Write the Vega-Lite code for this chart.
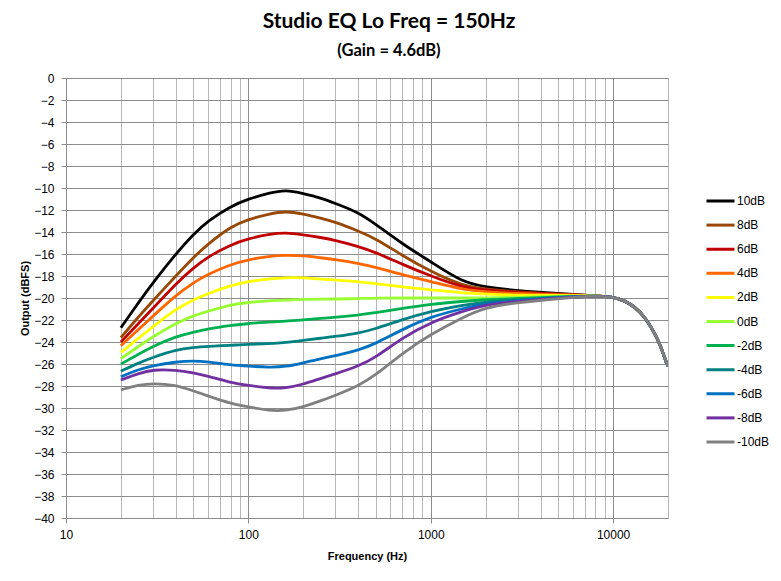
{
  "$schema": "https://vega.github.io/schema/vega-lite/v6.json",
  "width": 602,
  "height": 440,
  "autosize": {"type": "none"},
  "padding": {"left": 66, "top": 78, "right": 113, "bottom": 63},
  "background": "white",
  "config": {
    "view": {"stroke": "transparent"},
    "font": "Liberation Sans"
  },
  "title": {
    "text": "Studio EQ Lo Freq = 150Hz",
    "subtitle": "(Gain = 4.6dB)",
    "anchor": "middle",
    "frame": "group",
    "dx": 22,
    "offset": 13,
    "font": "Lato",
    "fontSize": 21,
    "fontWeight": "bold",
    "color": "black",
    "subtitleFont": "Lato",
    "subtitleFontSize": 16.5,
    "subtitleFontWeight": "bold",
    "subtitleColor": "black",
    "subtitlePadding": 11
  },
  "data": {
    "values": [
      {"f": 20, "10dB": -22.7, "8dB": -23.6, "6dB": -24.0, "4dB": -24.35, "2dB": -24.95, "0dB": -25.5, "-2dB": -26.0, "-4dB": -26.65, "-6dB": -27.15, "-8dB": -27.45, "-10dB": -28.35},
      {"f": 25, "10dB": -20.4, "8dB": -21.7, "6dB": -22.3, "4dB": -22.85, "2dB": -23.65, "0dB": -24.4, "-2dB": -25.1, "-4dB": -25.9, "-6dB": -26.5, "-8dB": -26.85, "-10dB": -27.9},
      {"f": 30, "10dB": -18.6, "8dB": -20.25, "6dB": -20.95, "4dB": -21.65, "2dB": -22.6, "0dB": -23.5, "-2dB": -24.4, "-4dB": -25.4, "-6dB": -26.15, "-8dB": -26.5, "-10dB": -27.75},
      {"f": 40, "10dB": -16.0, "8dB": -18.0, "6dB": -18.7, "4dB": -19.75, "2dB": -21.0, "0dB": -22.3, "-2dB": -23.5, "-4dB": -24.7, "-6dB": -25.8, "-8dB": -26.55, "-10dB": -27.9},
      {"f": 50, "10dB": -14.2, "8dB": -16.3, "6dB": -17.25, "4dB": -18.6, "2dB": -20.15, "0dB": -21.6, "-2dB": -23.1, "-4dB": -24.5, "-6dB": -25.7, "-8dB": -26.8, "-10dB": -28.45},
      {"f": 60, "10dB": -13.0, "8dB": -15.1, "6dB": -16.25, "4dB": -17.85, "2dB": -19.6, "0dB": -21.2, "-2dB": -22.8, "-4dB": -24.4, "-6dB": -25.8, "-8dB": -27.1, "-10dB": -28.9},
      {"f": 80, "10dB": -11.65, "8dB": -13.5, "6dB": -15.15, "4dB": -16.95, "2dB": -18.85, "0dB": -20.6, "-2dB": -22.5, "-4dB": -24.3, "-6dB": -26.1, "-8dB": -27.7, "-10dB": -29.6},
      {"f": 100, "10dB": -11.0, "8dB": -12.85, "6dB": -14.6, "4dB": -16.5, "2dB": -18.5, "0dB": -20.4, "-2dB": -22.3, "-4dB": -24.2, "-6dB": -26.2, "-8dB": -27.95, "-10dB": -29.9},
      {"f": 130, "10dB": -10.45, "8dB": -12.35, "6dB": -14.2, "4dB": -16.2, "2dB": -18.25, "0dB": -20.25, "-2dB": -22.2, "-4dB": -24.15, "-6dB": -26.3, "-8dB": -28.2, "-10dB": -30.25},
      {"f": 160, "10dB": -10.15, "8dB": -12.1, "6dB": -14.05, "4dB": -16.1, "2dB": -18.15, "0dB": -20.2, "-2dB": -22.1, "-4dB": -24.05, "-6dB": -26.25, "-8dB": -28.2, "-10dB": -30.25},
      {"f": 200, "10dB": -10.5, "8dB": -12.35, "6dB": -14.25, "4dB": -16.15, "2dB": -18.15, "0dB": -20.1, "-2dB": -22.0, "-4dB": -23.85, "-6dB": -25.9, "-8dB": -27.85, "-10dB": -29.9},
      {"f": 250, "10dB": -10.9, "8dB": -12.75, "6dB": -14.5, "4dB": -16.35, "2dB": -18.3, "0dB": -20.1, "-2dB": -21.85, "-4dB": -23.65, "-6dB": -25.5, "-8dB": -27.3, "-10dB": -29.35},
      {"f": 300, "10dB": -11.4, "8dB": -13.1, "6dB": -14.75, "4dB": -16.5, "2dB": -18.35, "0dB": -20.1, "-2dB": -21.75, "-4dB": -23.5, "-6dB": -25.25, "-8dB": -26.9, "-10dB": -28.85},
      {"f": 400, "10dB": -12.2, "8dB": -13.9, "6dB": -15.3, "4dB": -16.85, "2dB": -18.5, "0dB": -20.05, "-2dB": -21.55, "-4dB": -23.2, "-6dB": -24.75, "-8dB": -26.2, "-10dB": -28.0},
      {"f": 500, "10dB": -13.3, "8dB": -14.6, "6dB": -15.85, "4dB": -17.2, "2dB": -18.7, "0dB": -20.0, "-2dB": -21.35, "-4dB": -22.8, "-6dB": -24.15, "-8dB": -25.4, "-10dB": -27.0},
      {"f": 700, "10dB": -15.1, "8dB": -16.15, "6dB": -16.95, "4dB": -17.9, "2dB": -19.0, "0dB": -20.0, "-2dB": -20.95, "-4dB": -21.95, "-6dB": -22.85, "-8dB": -23.6, "-10dB": -25.0},
      {"f": 1000, "10dB": -16.7, "8dB": -17.6, "6dB": -18.0, "4dB": -18.5, "2dB": -19.25, "0dB": -20.0, "-2dB": -20.55, "-4dB": -21.2, "-6dB": -21.7, "-8dB": -22.2, "-10dB": -23.3},
      {"f": 1500, "10dB": -18.6, "8dB": -18.9, "6dB": -19.05, "4dB": -19.25, "2dB": -19.55, "0dB": -20.0, "-2dB": -20.3, "-4dB": -20.65, "-6dB": -20.95, "-8dB": -21.2, "-10dB": -21.75},
      {"f": 2000, "10dB": -19.0, "8dB": -19.2, "6dB": -19.3, "4dB": -19.45, "2dB": -19.65, "0dB": -20.0, "-2dB": -20.15, "-4dB": -20.35, "-6dB": -20.5, "-8dB": -20.6, "-10dB": -20.85},
      {"f": 3000, "10dB": -19.35, "8dB": -19.45, "6dB": -19.5, "4dB": -19.6, "2dB": -19.75, "0dB": -19.95, "-2dB": -20.05, "-4dB": -20.15, "-6dB": -20.25, "-8dB": -20.3, "-10dB": -20.4},
      {"f": 5000, "10dB": -19.6, "8dB": -19.65, "6dB": -19.65, "4dB": -19.7, "2dB": -19.75, "0dB": -19.85, "-2dB": -19.9, "-4dB": -19.95, "-6dB": -19.95, "-8dB": -20.0, "-10dB": -20.05},
      {"f": 8000, "10dB": -19.8, "8dB": -19.8, "6dB": -19.8, "4dB": -19.8, "2dB": -19.8, "0dB": -19.8, "-2dB": -19.8, "-4dB": -19.8, "-6dB": -19.8, "-8dB": -19.8, "-10dB": -19.8},
      {"f": 10000, "10dB": -19.9, "8dB": -19.9, "6dB": -19.9, "4dB": -19.9, "2dB": -19.9, "0dB": -19.9, "-2dB": -19.9, "-4dB": -19.9, "-6dB": -19.9, "-8dB": -19.9, "-10dB": -19.9},
      {"f": 11600, "10dB": -20.25, "8dB": -20.25, "6dB": -20.25, "4dB": -20.25, "2dB": -20.25, "0dB": -20.25, "-2dB": -20.25, "-4dB": -20.25, "-6dB": -20.25, "-8dB": -20.25, "-10dB": -20.25},
      {"f": 13100, "10dB": -20.8, "8dB": -20.8, "6dB": -20.8, "4dB": -20.8, "2dB": -20.8, "0dB": -20.8, "-2dB": -20.8, "-4dB": -20.8, "-6dB": -20.8, "-8dB": -20.8, "-10dB": -20.8},
      {"f": 14900, "10dB": -21.7, "8dB": -21.7, "6dB": -21.7, "4dB": -21.7, "2dB": -21.7, "0dB": -21.7, "-2dB": -21.7, "-4dB": -21.7, "-6dB": -21.7, "-8dB": -21.7, "-10dB": -21.7},
      {"f": 16500, "10dB": -22.9, "8dB": -22.9, "6dB": -22.9, "4dB": -22.9, "2dB": -22.9, "0dB": -22.9, "-2dB": -22.9, "-4dB": -22.9, "-6dB": -22.9, "-8dB": -22.9, "-10dB": -22.9},
      {"f": 18000, "10dB": -24.1, "8dB": -24.1, "6dB": -24.1, "4dB": -24.1, "2dB": -24.1, "0dB": -24.1, "-2dB": -24.1, "-4dB": -24.1, "-6dB": -24.1, "-8dB": -24.1, "-10dB": -24.1},
      {"f": 19500, "10dB": -25.8, "8dB": -25.8, "6dB": -25.8, "4dB": -25.8, "2dB": -25.8, "0dB": -25.8, "-2dB": -25.8, "-4dB": -25.8, "-6dB": -25.8, "-8dB": -25.8, "-10dB": -25.8},
      {"f": 20000, "10dB": -26.2, "8dB": -26.2, "6dB": -26.2, "4dB": -26.2, "2dB": -26.2, "0dB": -26.2, "-2dB": -26.2, "-4dB": -26.2, "-6dB": -26.2, "-8dB": -26.2, "-10dB": -26.2}
    ]
  },
  "transform": [
    {"fold": ["10dB", "8dB", "6dB", "4dB", "2dB", "0dB", "-2dB", "-4dB", "-6dB", "-8dB", "-10dB"], "as": ["series", "dB"]}
  ],
  "mark": {"type": "line", "interpolate": "basis", "strokeWidth": 2.8, "clip": true},
  "encoding": {
    "x": {
      "field": "f",
      "type": "quantitative",
      "scale": {"type": "log", "domain": [10, 20000], "nice": false},
      "axis": {
        "title": "Frequency (Hz)",
        "titleFont": "Liberation Sans",
        "titleFontSize": 11,
        "titleFontWeight": "bold",
        "titleColor": "black",
        "titlePadding": 10,
        "values": [10, 20, 30, 40, 50, 60, 70, 80, 90, 100, 200, 300, 400, 500, 600, 700, 800, 900, 1000, 2000, 3000, 4000, 5000, 6000, 7000, 8000, 9000, 10000, 20000],
        "labelExpr": "datum.value == 10 || datum.value == 100 || datum.value == 1000 || datum.value == 10000 ? format(datum.value, 'd') : ''",
        "labelOverlap": false,
        "labelFlush": false,
        "labelFont": "Liberation Sans",
        "labelFontSize": 12,
        "labelColor": "black",
        "labelPadding": 6,
        "domainColor": "#8c8c8c",
        "tickSize": 5,
        "tickColor": "#8c8c8c",
        "tickOpacity": {"condition": {"test": "datum.value == 10 || datum.value == 100 || datum.value == 1000 || datum.value == 10000", "value": 1}, "value": 0},
        "gridColor": {"condition": {"test": "datum.value == 10 || datum.value == 100 || datum.value == 1000 || datum.value == 10000", "value": "#8c8c8c"}, "value": "#b8b8b8"},
        "gridOpacity": 1
      }
    },
    "y": {
      "field": "dB",
      "type": "quantitative",
      "scale": {"domain": [-40, 0], "nice": false},
      "axis": {
        "title": "Output (dBFS)",
        "titleFont": "Liberation Sans",
        "titleFontSize": 11,
        "titleFontWeight": "bold",
        "titleColor": "black",
        "titlePadding": 3,
        "values": [0, -2, -4, -6, -8, -10, -12, -14, -16, -18, -20, -22, -24, -26, -28, -30, -32, -34, -36, -38, -40],
        "labelFont": "Liberation Sans",
        "labelFontSize": 12,
        "labelColor": "black",
        "labelPadding": 7,
        "labelFlush": false,
        "domainColor": "#8c8c8c",
        "tickSize": 5,
        "tickColor": "#8c8c8c",
        "gridColor": "#8c8c8c",
        "gridOpacity": 1
      }
    },
    "color": {
      "field": "series",
      "type": "nominal",
      "scale": {
        "domain": ["10dB", "8dB", "6dB", "4dB", "2dB", "0dB", "-2dB", "-4dB", "-6dB", "-8dB", "-10dB"],
        "range": ["#000000", "#974806", "#c00000", "#ff6600", "#ffff00", "#99ff33", "#00b050", "#008080", "#0070c0", "#7030a0", "#808080"]
      },
      "legend": {
        "title": null,
        "orient": "none",
        "legendX": 639,
        "legendY": 115,
        "symbolType": "stroke",
        "symbolSize": 784,
        "symbolStrokeWidth": 3,
        "clipHeight": 16,
        "rowPadding": 8.1,
        "labelFont": "Liberation Sans",
        "labelFontSize": 12,
        "labelColor": "black",
        "labelOffset": 1,
        "padding": 0
      }
    }
  }
}
